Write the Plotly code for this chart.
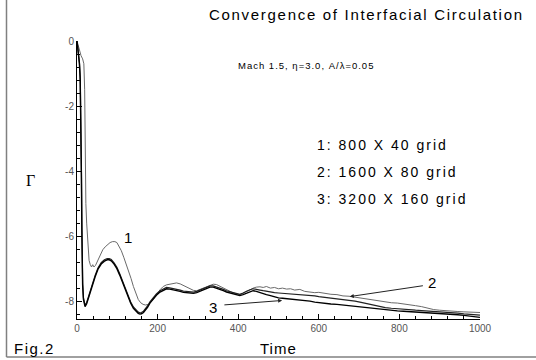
import plotly.graph_objects as go

# ---- data: circulation history for three grid resolutions ----
t1 = [0, 3, 6, 10, 14, 17, 19, 20, 21, 22, 24, 26, 28, 30, 33, 36, 39, 42, 46, 52, 58, 64, 70, 76, 82, 88,
      94, 99, 104, 110, 116, 122, 128, 134, 140, 146, 152, 158, 164, 170, 177, 184, 191, 198, 206, 214, 222,
      231, 239, 247, 256, 264, 272, 281, 289, 297, 305, 314, 322, 330, 338, 346, 355, 363, 371, 380, 388,
      396, 404, 412, 420, 429, 437, 445, 454, 462, 470, 480, 490, 500, 510, 520, 530, 540, 553, 565, 578,
      590, 600, 615, 630, 645, 660, 675, 690, 705, 720, 735, 750, 765, 780, 795, 810, 825, 840, 855, 870,
      885, 900, 915, 930, 945, 960, 975, 990, 1000]
g1 = [0, -0.15, -0.3, -0.45, -0.55, -0.7, -1.5, -3.0, -4.2, -5.0, -5.6, -6.1, -6.5, -6.75, -6.88, -6.95,
      -6.88, -6.95, -6.9, -6.72, -6.55, -6.42, -6.33, -6.26, -6.2, -6.17, -6.17, -6.2, -6.3, -6.45, -6.65,
      -6.85, -7.07, -7.3, -7.55, -7.78, -7.95, -8.05, -8.1, -8.12, -8.1, -8.02, -7.92, -7.8, -7.65, -7.55,
      -7.5, -7.47, -7.46, -7.44, -7.47, -7.52, -7.56, -7.62, -7.67, -7.68, -7.64, -7.59, -7.55, -7.51,
      -7.48, -7.49, -7.55, -7.6, -7.66, -7.71, -7.75, -7.78, -7.8, -7.76, -7.7, -7.66, -7.6, -7.57, -7.56,
      -7.58, -7.55, -7.6, -7.58, -7.62, -7.6, -7.63, -7.62, -7.66, -7.64, -7.7, -7.72, -7.74, -7.73, -7.77,
      -7.79, -7.8, -7.84, -7.85, -7.88, -7.9, -7.93, -7.96, -8.0, -8.02, -8.05, -8.06, -8.08, -8.1, -8.14,
      -8.17, -8.22, -8.26, -8.28, -8.3, -8.31, -8.32, -8.33, -8.34, -8.35, -8.35]

t2 = [0, 3, 6, 8, 10, 11, 12, 13, 14, 16, 18, 20, 24, 28, 32, 38, 45, 52, 60, 68, 75, 80, 85, 92, 99, 106,
      113, 119, 126, 133, 140, 147, 152, 156, 160, 165, 170, 175, 181, 189, 197, 206, 214, 222, 230, 239,
      247, 256, 264, 272, 281, 289, 297, 305, 314, 322, 330, 338, 346, 355, 363, 371, 380, 388, 396, 404,
      412, 420, 429, 437, 445, 454, 462, 470, 480, 490, 500, 510, 520, 530, 540, 553, 565, 578, 590, 600,
      615, 630, 645, 660, 675, 690, 705, 720, 735, 750, 765, 780, 795, 810, 825, 840, 855, 870, 885, 900,
      915, 930, 945, 960, 975, 990, 1000]
g2 = [0, -0.3, -0.65, -1.1, -2.4, -4.0, -5.6, -6.8, -7.45, -7.9, -8.08, -8.13, -8.04, -7.88, -7.71, -7.46,
      -7.21, -6.98, -6.82, -6.73, -6.69, -6.69, -6.72, -6.82, -6.96, -7.16, -7.38, -7.58, -7.82, -8.02,
      -8.18, -8.29, -8.34, -8.36, -8.35, -8.31, -8.24, -8.15, -8.02, -7.89, -7.78, -7.68, -7.62, -7.58,
      -7.59, -7.61, -7.62, -7.66, -7.69, -7.7, -7.72, -7.72, -7.7, -7.66, -7.61, -7.56, -7.53, -7.53,
      -7.56, -7.6, -7.64, -7.68, -7.71, -7.75, -7.78, -7.79, -7.75, -7.7, -7.65, -7.62, -7.63, -7.66,
      -7.68, -7.7, -7.72, -7.74, -7.75, -7.76, -7.77, -7.77, -7.78, -7.79, -7.8, -7.82, -7.84, -7.86,
      -7.88, -7.9, -7.93, -7.96, -7.98, -8.0, -8.04, -8.08, -8.12, -8.17, -8.2, -8.22, -8.24, -8.26,
      -8.27, -8.28, -8.29, -8.3, -8.31, -8.32, -8.34, -8.36, -8.37, -8.39, -8.41, -8.42, -8.43]

t3 = t2
g3 = [0, -0.3, -0.7, -1.2, -2.6, -4.2, -5.8, -6.9, -7.5, -7.95, -8.12, -8.17, -8.08, -7.92, -7.75, -7.5,
      -7.25, -7.02, -6.86, -6.77, -6.73, -6.73, -6.76, -6.86, -7.0, -7.2, -7.42, -7.62, -7.86, -8.06,
      -8.22, -8.33, -8.38, -8.4, -8.39, -8.35, -8.28, -8.19, -8.06, -7.93, -7.82, -7.72, -7.66, -7.62,
      -7.63, -7.65, -7.66, -7.7, -7.73, -7.74, -7.76, -7.76, -7.74, -7.7, -7.65, -7.6, -7.57, -7.57,
      -7.6, -7.64, -7.68, -7.72, -7.75, -7.79, -7.82, -7.83, -7.8, -7.76, -7.71, -7.68, -7.7, -7.74,
      -7.77, -7.8, -7.83, -7.87, -7.9, -7.91, -7.92, -7.93, -7.95, -7.96, -7.98, -8.0, -8.03, -8.05,
      -8.07, -8.09, -8.1, -8.12, -8.14, -8.16, -8.18, -8.2, -8.22, -8.26, -8.28, -8.29, -8.3, -8.31,
      -8.32, -8.33, -8.34, -8.35, -8.36, -8.37, -8.39, -8.41, -8.42, -8.44, -8.46, -8.48, -8.5]

legend_lines = ["1: 800 X 40 grid", "2: 1600 X 80 grid", "3: 3200 X 160 grid"]
x_ticks = [0, 200, 400, 600, 800, 1000]
x_tick_text = ["0", "200", "400", "600", "800", "1000"]
y_ticks = [0, -2, -4, -6, -8]
y_tick_text = ["0", "-2", "-4", "-6", "-8"]

# ---- figure geometry (pixels) ----
W, H = 536, 360
L, R, T, B = 77, 56, 41, 41


def px(x):
    return (x - L) / (W - L - R)


def py(y):
    return (H - B - y) / (H - T - B)


def spaced(s, sp):
    return f'<span style="letter-spacing:{sp}px">{s}</span>'


fig = go.Figure()
fig.add_trace(go.Scatter(x=t1, y=g1, mode="lines", line=dict(color="#6a6a6a", width=1), name="1"))
fig.add_trace(go.Scatter(x=t2, y=g2, mode="lines", line=dict(color="#222222", width=1.2), name="2"))
fig.add_trace(go.Scatter(x=t3, y=g3, mode="lines", line=dict(color="#000000", width=1.4), name="3"))

font_main = "Liberation Sans, Arial, sans-serif"

fig.update_layout(
    width=W, height=H,
    margin=dict(l=L, r=R, t=T, b=B, pad=0),
    paper_bgcolor="white", plot_bgcolor="white",
    showlegend=False,
    font=dict(family=font_main, color="#000"),
    xaxis=dict(
        range=[0, 1000], showgrid=False, zeroline=False,
        showline=True, linecolor="#000", linewidth=1,
        ticks="inside", ticklen=5, tickcolor="#000", tickwidth=1,
        tickvals=x_ticks, ticktext=x_tick_text,
        tickfont=dict(size=10, color="#555", family=font_main),
        minor=dict(dtick=40, tick0=0, ticks="inside", ticklen=3, tickcolor="#000", showgrid=False),
    ),
    yaxis=dict(
        range=[-8.55, 0], showgrid=False, zeroline=False,
        showline=True, linecolor="#000", linewidth=1,
        ticks="inside", ticklen=5, tickcolor="#000", tickwidth=1,
        tickvals=y_ticks, ticktext=y_tick_text,
        tickfont=dict(size=10, color="#555", family=font_main),
        minor=dict(dtick=0.4, tick0=0, ticks="inside", ticklen=3, tickcolor="#000", showgrid=False),
    ),
)

ann = []
# title, conditions, grid list
ann.append(dict(text=spaced("Convergence of Interfacial Circulation", 1.7), x=px(526), y=py(15),
                xanchor="right", yanchor="middle", font=dict(size=15)))
ann.append(dict(text=spaced("Mach 1.5, η=3.0, A/λ=0.05", 1.0), x=px(306), y=py(65),
                xanchor="center", yanchor="middle", font=dict(size=9.5)))
for i, s in enumerate(legend_lines):
    ann.append(dict(text=spaced(s, 2.0), x=px(315), y=py(145 + 27 * i),
                    xanchor="left", yanchor="middle", font=dict(size=14)))
# axis titles and figure tag
ann.append(dict(text=spaced("Time", 1.0), x=px(278), y=py(348), xanchor="center", yanchor="middle",
                font=dict(size=15)))
ann.append(dict(text="Γ", x=px(30), y=py(180), xanchor="center", yanchor="middle",
                font=dict(size=16, family="Liberation Serif, serif")))
ann.append(dict(text=spaced("Fig.2", 1.5), x=px(12), y=py(348), xanchor="left", yanchor="middle",
                font=dict(size=15)))
for a in ann:
    a.update(xref="paper", yref="paper", showarrow=False)

# curve labels
fig.add_annotation(x=127, y=-6.05, xref="x", yref="y", text="1", showarrow=False, font=dict(size=15))
fig.add_annotation(x=880, y=-7.43, xref="x", yref="y", text="2", showarrow=False, font=dict(size=15))
fig.add_annotation(x=338, y=-8.2, xref="x", yref="y", text="3", showarrow=False, font=dict(size=15))
# pointer arrows
fig.add_annotation(x=677, y=-7.86, ax=862, ay=-7.52, xref="x", yref="y", axref="x", ayref="y",
                   text="", showarrow=True, arrowhead=2, arrowsize=0.8, arrowwidth=1, arrowcolor="#222")
fig.add_annotation(x=509, y=-7.98, ax=362, ay=-8.12, xref="x", yref="y", axref="x", ayref="y",
                   text="", showarrow=True, arrowhead=2, arrowsize=0.8, arrowwidth=1, arrowcolor="#222")

fig.update_layout(annotations=list(fig.layout.annotations) + ann)

# outer frame (left and bottom edges)
fig.add_shape(type="line", xref="paper", yref="paper", x0=px(6.5), x1=px(6.5), y0=py(0), y1=py(357),
              line=dict(color="#808080", width=1.5))
fig.add_shape(type="line", xref="paper", yref="paper", x0=px(6.5), x1=px(536), y0=py(357), y1=py(357),
              line=dict(color="#808080", width=1.5))

fig.write_html("out.html")
